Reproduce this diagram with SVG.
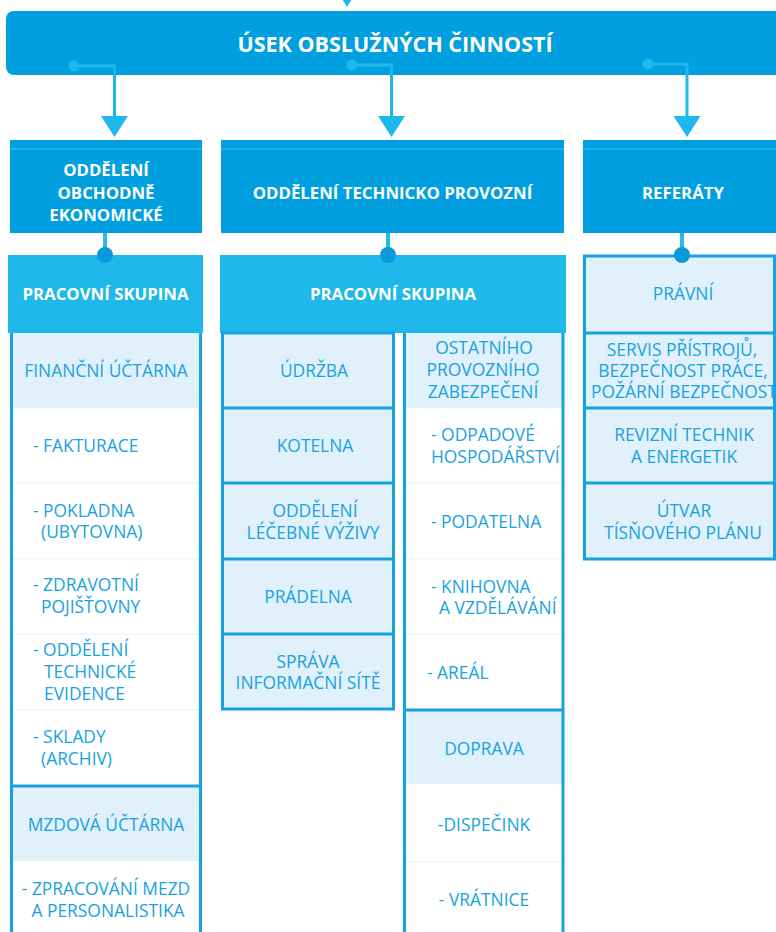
<svg xmlns="http://www.w3.org/2000/svg" width="776" height="932" viewBox="0 0 776 932">
<style>
.dark{fill:#009FE0}
.hl{stroke:#4DBDEB;stroke-width:1}
.cyan{fill:#1EB9EA}
.light{fill:#E0F1FB}
.bd{fill:none;stroke:#14A2E1;stroke-width:3}
.sep{stroke:#E4F2FB;stroke-width:1}
.tw{font-family:"Open Sans","Noto Sans",sans-serif;font-weight:700;fill:#FFFFFF;font-size:16.8px;text-anchor:middle}
.title{font-size:21.5px}
.tb{font-family:"Open Sans","Noto Sans",sans-serif;fill:#18A2E0;font-size:17.4px}
.c{text-anchor:middle}
.conn{stroke:#1EB9EA;stroke-width:3;fill:none}
.ah{fill:#1EB9EA}
.sub{stroke:#2DB8EA;stroke-width:4;fill:none}
.dot{fill:#0A9ADC}
</style>

<g id="top">
<rect x="6" y="11" width="800" height="64" rx="8" class="dark"/>
<text x="395" y="51.5" class="tw title">ÚSEK OBSLUŽNÝCH ČINNOSTÍ</text>
</g>

<g id="connectors">
<polygon class="ah" points="333.5,-15 360.5,-15 347,7"/>
<circle cx="74" cy="66" r="5.5" class="ah"/>
<path class="conn" d="M74,66 H114.5 V117"/>
<polygon class="ah" points="101,116 128,116 114.5,137"/>
<circle cx="352" cy="65" r="5.5" class="ah"/>
<path class="conn" d="M352,65 H391.5 V117"/>
<polygon class="ah" points="378,116 405,116 391.5,137"/>
<circle cx="648" cy="64" r="5.5" class="ah"/>
<path class="conn" d="M648,64 H687 V117"/>
<polygon class="ah" points="673.5,116 700.5,116 687,137"/>
<path class="sub" d="M105,233 V250"/>
<path class="sub" d="M388,233 V250"/>
<path class="sub" d="M682,233 V250"/>
</g>

<g id="oddeleni-oe">
<rect x="10" y="140" width="192" height="93" class="dark"/>
<line x1="10" y1="149" x2="202" y2="149" class="hl"/>
<text class="tw" x="106" y="176">ODDĚLENÍ</text>
<text class="tw" x="106" y="199">OBCHODNĚ</text>
<text class="tw" x="106" y="221">EKONOMICKÉ</text>
</g>

<g id="oddeleni-tp">
<rect x="221" y="140" width="343" height="93" class="dark"/>
<line x1="221" y1="149" x2="564" y2="149" class="hl"/>
<text class="tw" x="392.5" y="199">ODDĚLENÍ TECHNICKO PROVOZNÍ</text>
</g>

<g id="referaty">
<rect x="583" y="140" width="200" height="93" class="dark"/>
<line x1="583" y1="149" x2="776" y2="149" class="hl"/>
<text class="tw" x="683" y="199">REFERÁTY</text>
</g>

<g id="ps-left">
<rect x="8" y="255" width="195" height="78" class="cyan"/>
<text class="tw" x="105.5" y="300">PRACOVNÍ SKUPINA</text>
</g>

<g id="col-left">
<rect x="11" y="333" width="190" height="75" class="light"/>
<rect x="11" y="786" width="190" height="75" class="light"/>
<line x1="11" y1="483" x2="201" y2="483" class="sep"/>
<line x1="11" y1="559" x2="201" y2="559" class="sep"/>
<line x1="11" y1="634" x2="201" y2="634" class="sep"/>
<line x1="11" y1="710" x2="201" y2="710" class="sep"/>
<path class="bd" d="M11.5,333 V940 M200.5,333 V940 M11.5,786 H200.5"/>
<text class="tb c" x="106" y="377">FINANČNÍ ÚČTÁRNA</text>
<text class="tb" x="33" y="452">- FAKTURACE</text>
<text class="tb" x="33" y="517">- POKLADNA</text>
<text class="tb" x="41" y="538">(UBYTOVNA)</text>
<text class="tb" x="33" y="591">- ZDRAVOTNÍ</text>
<text class="tb" x="41" y="613">POJIŠŤOVNY</text>
<text class="tb" x="33" y="656">- ODDĚLENÍ</text>
<text class="tb" x="44" y="678">TECHNICKÉ</text>
<text class="tb" x="44" y="700">EVIDENCE</text>
<text class="tb" x="33" y="743">- SKLADY</text>
<text class="tb" x="41" y="765">(ARCHIV)</text>
<text class="tb c" x="106" y="831">MZDOVÁ ÚČTÁRNA</text>
<text class="tb c" x="106" y="895">- ZPRACOVÁNÍ MEZD</text>
<text class="tb c" x="108" y="917">A PERSONALISTIKA</text>
</g>

<g id="ps-mid">
<rect x="220" y="255" width="346" height="78" class="cyan"/>
<text class="tw" x="393" y="300">PRACOVNÍ SKUPINA</text>
</g>

<g id="col-mid-left">
<rect x="222.5" y="333" width="171" height="376" class="light"/>
<rect x="222.5" y="333" width="171" height="376" class="bd"/>
<path class="bd" d="M222.5,408 H393.5 M222.5,483 H393.5 M222.5,559 H393.5 M222.5,634 H393.5"/>
<text class="tb c" x="314" y="377">ÚDRŽBA</text>
<text class="tb c" x="315" y="452">KOTELNA</text>
<text class="tb c" x="315" y="517">ODDĚLENÍ</text>
<text class="tb c" x="313" y="539">LÉČEBNÉ VÝŽIVY</text>
<text class="tb c" x="308" y="603">PRÁDELNA</text>
<text class="tb c" x="308" y="668">SPRÁVA</text>
<text class="tb c" x="308" y="689">INFORMAČNÍ SÍTĚ</text>
</g>

<g id="col-mid-right">
<rect x="404" y="333" width="159" height="75" class="light"/>
<rect x="404" y="710" width="159" height="74" class="light"/>
<line x1="404" y1="483" x2="563" y2="483" class="sep"/>
<line x1="404" y1="559" x2="563" y2="559" class="sep"/>
<line x1="404" y1="634" x2="563" y2="634" class="sep"/>
<line x1="404" y1="862" x2="563" y2="862" class="sep"/>
<path class="bd" d="M404.5,333 V940 M563,333 V940 M404.5,710 H563"/>
<text class="tb c" x="484" y="354">OSTATNÍHO</text>
<text class="tb c" x="483" y="376">PROVOZNÍHO</text>
<text class="tb c" x="483" y="398">ZABEZPEČENÍ</text>
<text class="tb" x="431" y="441">- ODPADOVÉ</text>
<text class="tb" x="431" y="463">HOSPODÁŘSTVÍ</text>
<text class="tb" x="431" y="528">- PODATELNA</text>
<text class="tb" x="431" y="593">- KNIHOVNA</text>
<text class="tb" x="439" y="614">A VZDĚLÁVÁNÍ</text>
<text class="tb" x="427" y="679">- AREÁL</text>
<text class="tb c" x="484" y="755">DOPRAVA</text>
<text class="tb c" x="484" y="831">-DISPEČINK</text>
<text class="tb c" x="484" y="906">- VRÁTNICE</text>
</g>

<g id="col-right">
<rect x="584.5" y="256" width="190" height="303" class="light"/>
<rect x="584.5" y="256" width="190" height="303" class="bd"/>
<path class="bd" d="M584.5,333 H774.5 M584.5,408 H774.5 M584.5,483 H774.5"/>
<text class="tb c" x="683" y="300">PRÁVNÍ</text>
<text class="tb c" x="682" y="356">SERVIS PŘÍSTROJŮ,</text>
<text class="tb c" x="683" y="377">BEZPEČNOST PRÁCE,</text>
<text class="tb c" x="684" y="398">POŽÁRNÍ BEZPEČNOST</text>
<text class="tb c" x="684" y="441">REVIZNÍ TECHNIK</text>
<text class="tb c" x="684" y="463">A ENERGETIK</text>
<text class="tb c" x="684" y="517">ÚTVAR</text>
<text class="tb c" x="683" y="539">TÍSŇOVÉHO PLÁNU</text>
</g>

<g id="dots">
<circle cx="105" cy="255" r="8" class="dot"/>
<circle cx="388" cy="255" r="8" class="dot"/>
<circle cx="682" cy="255" r="8" class="dot"/>
</g>
</svg>
